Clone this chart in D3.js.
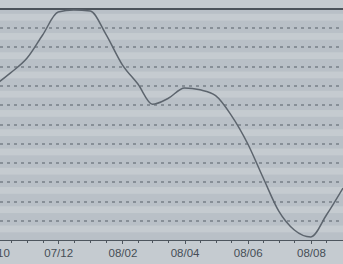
<!DOCTYPE html>
<html lang="en">
<head>
    <meta charset="UTF-8">
    <title>Line chart</title>
    <script src="https://cdn.jsdelivr.net/npm/d3@7"></script>
    <style>
        body { margin: 0; background: #c5cbd0; }
        .axis path, .axis line
        {
            fill: none;
            stroke: #4e565e;
            shape-rendering: crispEdges;
        }
        .axis text
        {
            font-family: 'Liberation Sans', Arial, sans-serif;
            font-size: 11.5px;
            fill: #464e56;
        }
        .grid line
        {
            stroke: #878f97;
            stroke-width: 2;
            stroke-dasharray: 3, 4;
            shape-rendering: crispEdges;
        }
    </style>
</head>
<body>
<svg id="img" width="343" height="264"></svg>
<script>
    // semi-monthly readings
    var dates = ["2007-10-01", "2007-10-16", "2007-11-01", "2007-11-16", "2007-12-01", "2007-12-16",
                 "2008-01-01", "2008-01-16", "2008-02-01", "2008-02-16", "2008-03-01", "2008-03-16",
                 "2008-04-01", "2008-04-16", "2008-05-01", "2008-05-16", "2008-06-01", "2008-06-16",
                 "2008-07-01", "2008-07-16", "2008-08-01", "2008-08-16", "2008-09-01"];
    var values = [8.05, 8.68, 9.45, 10.65, 11.84, 11.95,
                  11.9, 10.7, 9.1, 8.1, 7.05, 7.35,
                  7.9, 7.8, 7.5, 6.49, 5.0, 3.22,
                  1.5, 0.52, 0.16, 1.3, 2.7];
    var labelDates = ["2007-10-01", "2007-12-01", "2008-02-01", "2008-04-01", "2008-06-01", "2008-08-01"];
    var gridLevels = [1, 2, 3, 4, 5, 6, 7, 8, 9, 10, 11];

    var parse = d3.timeParse("%Y-%m-%d");
    var data = dates.map(function (d, i) { return { date: parse(d), value: values[i] }; });

    var vis = d3.select("#img"),
        WIDTH = 343,
        TOP = 9,
        BOTTOM = 240,
        xRange = d3.scaleTime()
            .domain([parse("2007-10-01"), parse("2008-09-01")])
            .range([-5, 343]),
        yRange = d3.scaleLinear()
            .domain([0, 12])
            .range([BOTTOM, TOP]);

    // plot background with faint light bands
    vis.append("rect")
        .attr("x", 0).attr("y", TOP)
        .attr("width", WIDTH).attr("height", BOTTOM - TOP)
        .attr("fill", "#b9c0c7");

    vis.append("g")
        .selectAll("rect")
        .data(d3.range(0, 12))
        .enter().append("rect")
        .attr("x", 0)
        .attr("y", function (d) { return yRange(d + 0.75); })
        .attr("width", WIDTH)
        .attr("height", function (d) { return yRange(d + 0.4) - yRange(d + 0.75); })
        .attr("fill", "#c5cbd0");

    // dotted gridlines
    vis.append("g")
        .attr("class", "grid")
        .selectAll("line")
        .data(gridLevels)
        .enter().append("line")
        .attr("x1", 0).attr("x2", WIDTH)
        .attr("y1", function (d) { return Math.round(yRange(d)); })
        .attr("y2", function (d) { return Math.round(yRange(d)); });

    // top frame line
    vis.append("line")
        .attr("x1", 0).attr("x2", WIDTH)
        .attr("y1", TOP).attr("y2", TOP)
        .attr("stroke", "#4c535b")
        .attr("stroke-width", 2);

    // minor ticks on every reading, labels every two months
    var minorAxis = d3.axisBottom(xRange)
        .tickValues(data.map(function (d) { return d.date; }))
        .tickSize(3)
        .tickFormat("");

    vis.append("g")
        .attr("class", "x axis")
        .attr("transform", "translate(0," + BOTTOM + ")")
        .call(minorAxis);

    var labelAxis = d3.axisBottom(xRange)
        .tickValues(labelDates.map(parse))
        .tickSize(4)
        .tickPadding(5)
        .tickFormat(d3.timeFormat("%y/%m"));

    vis.append("g")
        .attr("class", "x axis")
        .attr("transform", "translate(0," + BOTTOM + ")")
        .call(labelAxis)
        .select(".domain").remove();

    var lineFunc = d3.line()
        .x(function (d) { return xRange(d.date); })
        .y(function (d) { return yRange(d.value); })
        .curve(d3.curveMonotoneX);

    vis.append("path")
        .attr("d", lineFunc(data))
        .attr("stroke", "#5d656e")
        .attr("stroke-width", 1.5)
        .attr("fill", "none");
</script>
</body>
</html>
